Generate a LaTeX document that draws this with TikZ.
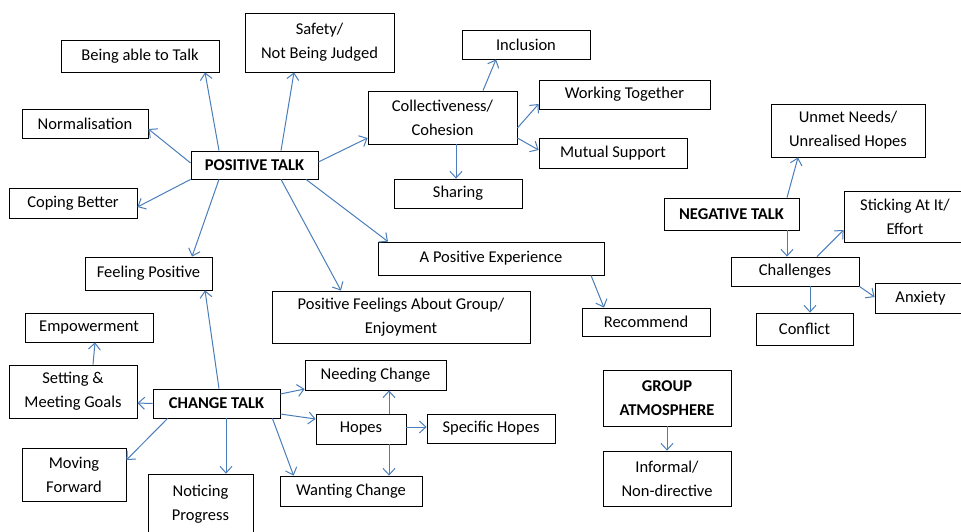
\documentclass[tikz,border=0pt]{standalone}
\usepackage{fontspec}
\setmainfont{Carlito}
\usetikzlibrary{arrows.meta}
\definecolor{arrowblue}{HTML}{4A7EBB}
\begin{document}
\begin{tikzpicture}[x=1pt,y=-1pt,
  box/.style={draw=black, line width=0.8pt, fill=white, inner sep=0pt, align=center, font=\fontsize{16.5}{24}\selectfont},
  hub/.style={box, font=\fontsize{16.5}{24}\selectfont\bfseries},
  arr/.style={draw=arrowblue, line width=1pt, -{Straight Barb[length=6.5pt,width=12pt]}}]
\useasboundingbox (0,0) rectangle (961,531);
% positive talk cluster
\node[box, minimum width=158, minimum height=32] (bat) at (140,56) {Being able to Talk};
\node[box, minimum width=149, minimum height=59] (safe) at (319.5,42.5) {Safety/\\Not Being Judged};
\node[box, minimum width=126, minimum height=29] (norm) at (85,123.5) {Normalisation};
\node[hub, minimum width=127, minimum height=28] (pt) at (254.5,165) {POSITIVE TALK};
\node[box, minimum width=128, minimum height=30] (cope) at (73,203) {Coping Better};
\node[box, minimum width=149, minimum height=53] (coll) at (442.5,117.5) {Collectiveness/\\Cohesion};
\node[box, minimum width=128, minimum height=29] (shar) at (458,193.5) {Sharing};
\node[box, minimum width=128, minimum height=29] (incl) at (526,44.5) {Inclusion};
\node[box, minimum width=127, minimum height=33] (feel) at (148.5,273.5) {Feeling Positive};
\node[box, minimum width=226, minimum height=33] (ape) at (491,258.5) {A Positive Experience};
\node[box, minimum width=171, minimum height=29] (work) at (624.5,94.5) {Working Together};
\node[box, minimum width=148, minimum height=30] (mutual) at (613,153) {Mutual Support};
\node[box, minimum width=258, minimum height=52] (pfg) at (401,317) {Positive Feelings About Group/\\Enjoyment};
\node[box, minimum width=128, minimum height=28] (rec) at (646,322) {Recommend};
% negative talk cluster
\node[box, minimum width=154, minimum height=53] (unmet) at (848,130.5) {Unmet Needs/\\Unrealised Hopes};
\node[hub, minimum width=135, minimum height=32] (nt) at (731.5,214) {NEGATIVE TALK};
\node[box, minimum width=122, minimum height=51] (stick) at (905,216.5) {Sticking At It/\\Effort};
\node[box, minimum width=128, minimum height=29] (chal) at (795,271.5) {Challenges};
\node[box, minimum width=97, minimum height=32] (conf) at (804.5,329) {Conflict};
\node[box, minimum width=91, minimum height=30] (anx) at (920.5,298) {Anxiety};
% change talk cluster
\node[box, minimum width=128, minimum height=29] (emp) at (89,327.5) {Empowerment};
\node[box, minimum width=128, minimum height=53] (set) at (73,391.5) {Setting \&\\Meeting Goals};
\node[hub, minimum width=127, minimum height=29] (ct) at (216.5,403.5) {CHANGE TALK};
\node[box, minimum width=104, minimum height=53] (move) at (74,474.5) {Moving\\Forward};
\node[box, minimum width=105, minimum height=60] (notice) at (200.5,504) {Noticing\\Progress};
\node[box, minimum width=141, minimum height=30] (need) at (375.5,375) {Needing Change};
\node[box, minimum width=90, minimum height=30] (hopes) at (361,429) {Hopes};
\node[box, minimum width=128, minimum height=29] (spec) at (491,428.5) {Specific Hopes};
\node[box, minimum width=142, minimum height=30] (want) at (351,491) {Wanting Change};
% group atmosphere
\node[hub, minimum width=128, minimum height=56] (ga) at (667,398) {GROUP\\ATMOSPHERE};
\node[box, minimum width=128, minimum height=55] (inf) at (667,478.5) {Informal/\\Non-directive};
% arrows: positive talk
\draw[arr] ([xshift=-35.5]pt.north) -- ([xshift=65]bat.south);
\draw[arr] ([xshift=26.5]pt.north) -- ([xshift=-25.5]safe.south);
\draw[arr] ([yshift=2]pt.west) -- ([yshift=-5.5]norm.east);
\draw[arr] (pt.south west) -- ([yshift=-4]cope.east);
\draw[arr] ([xshift=-35.5]pt.south) -- ([xshift=43.5]feel.north);
\draw[arr] ([yshift=3]pt.east) -- ([yshift=-20.5]coll.west);
\draw[arr] ([xshift=26.5]pt.south) -- ([xshift=-60]pfg.north);
\draw[arr] ([xshift=51.5]pt.south) -- ([xshift=-103]ape.north);
\draw[arr] ([xshift=13.5]coll.south) -- ([xshift=-2]shar.north);
\draw[arr] ([xshift=40.5]coll.north) -- ([xshift=-30]incl.south);
\draw[arr] ([yshift=-10.5]coll.east) -- ([yshift=-9.5]work.west);
\draw[arr] ([yshift=-20.5]coll.east) -- ([yshift=3]mutual.west);
\draw[arr] ([xshift=100]ape.south) -- ([xshift=-42]rec.north);
% arrows: negative talk
\draw[arr] ([xshift=55.5]nt.north) -- ([xshift=-50]unmet.south);
\draw[arr] ([xshift=55.5]nt.south) -- ([xshift=-8]chal.north);
\draw[arr] ([xshift=22]chal.north) -- ([yshift=-13.5]stick.west);
\draw[arr] ([xshift=15]chal.south) -- ([xshift=5.5]conf.north);
\draw[arr] (chal.south east) -- ([yshift=1]anx.west);
% arrows: change talk
\draw[arr] ([xshift=2.5]ct.north) -- ([xshift=56.5]feel.south);
\draw[arr] (ct.west) -- ([yshift=-11.5]set.east);
\draw[arr] ([xshift=20]set.north) -- ([xshift=6]emp.south);
\draw[arr] ([xshift=15]ct.south west) -- ([yshift=14.5]move.east);
\draw[arr] ([xshift=9.5]ct.south) -- ([xshift=25.5]notice.north);
\draw[arr] ([xshift=-8]ct.south east) -- ([xshift=14]want.north west);
\draw[arr] ([yshift=9.5]ct.east) -- ([yshift=-14]need.west);
\draw[arr] ([yshift=-10.5]ct.east) -- ([yshift=10]hopes.west);
\draw[arr] ([xshift=28]hopes.north) -- ([xshift=13.5]need.south);
\draw[arr] ([xshift=28]hopes.south) -- ([xshift=38]want.north);
\draw[arr] ([yshift=2]hopes.east) -- ([yshift=1.5]spec.west);
% group atmosphere
\draw[arr] (ga.south) -- (inf.north);
\end{tikzpicture}
\end{document}
